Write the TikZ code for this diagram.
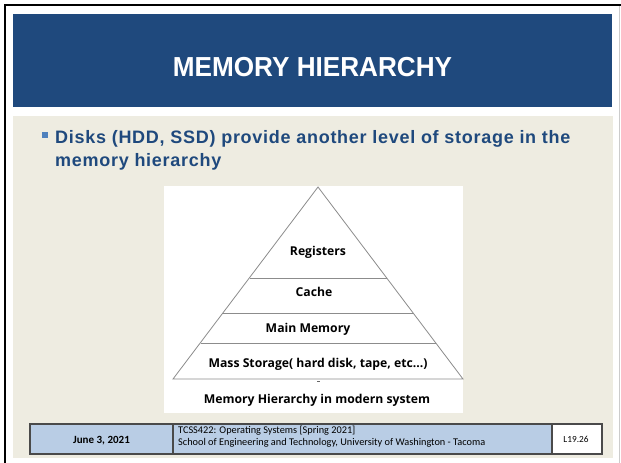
\documentclass[tikz,border=0pt]{standalone}
\usepackage{fontspec}
\setmainfont{Liberation Sans}
\newfontfamily\titlefont[FakeStretch=0.95]{Liberation Sans}
\newfontfamily\bodyfont[LetterSpace=4]{Liberation Sans}
\newfontfamily\pyrfont{Open Sans}
\newfontfamily\footfont{Carlito}
\definecolor{hdrblue}{HTML}{1F497D}
\definecolor{beige}{HTML}{EEECE1}
\definecolor{bullblue}{HTML}{4F81BD}
\definecolor{footblue}{HTML}{B9CDE5}
\definecolor{footline}{HTML}{4A4A4A}
\definecolor{pyrline}{HTML}{8C8C8C}
\tikzset{
  pyrlabel/.style={font=\pyrfont\bfseries\fontsize{12.2}{14}\selectfont, text=black, inner sep=0pt, anchor=base},
  level/.style={draw=pyrline, line width=0.8pt},
  foottext/.style={font=\footfont\fontsize{10.3}{12}\selectfont, text=black, inner sep=0pt},
  footbox/.style={draw=footline, line width=1.1pt}
}
\begin{document}
\begin{tikzpicture}[x=1pt,y=-1pt]
\useasboundingbox (0,0) rectangle (621,463);
\fill[white] (0,0) rectangle (621,463);
% outer frame
\draw[black, line width=2pt] (4,5) -- (621,5);
\draw[black, line width=2pt] (5,4) -- (5,463);
\draw[black!20, line width=1pt] (619.5,6) -- (619.5,463);
% header
\fill[hdrblue] (13,14) rectangle (612,107);
\node[font=\titlefont\bfseries\fontsize{27.5}{30}\selectfont, text=white, anchor=base, inner sep=0pt] (title) at (312.5,76.5) {MEMORY HIERARCHY};
% body
\fill[beige] (13,116) rectangle (613,458);
\fill[bullblue] (42,132) rectangle (47.5,137.5);
\node[font=\bodyfont\bfseries\fontsize{18}{23}\selectfont, text=hdrblue, anchor=base west, inner sep=0pt] (line1) at (55,143) {Disks (HDD, SSD) provide another level of storage in the};
\node[font=\bodyfont\bfseries\fontsize{18}{23}\selectfont, text=hdrblue, anchor=base west, inner sep=0pt] (line2) at (55,166) {memory hierarchy};
% pyramid picture
\fill[white] (164,186) rectangle (463,413);
\coordinate (apex) at (318,187);
\coordinate (bl) at (173,379);
\coordinate (br) at (463,379);
\draw[level] (bl) -- (apex) -- (br) -- cycle;
\draw[level] (249.5,278) -- (386.5,278);
\draw[level] (223,313) -- (413,313);
\draw[level] (200.5,343) -- (435.5,343);
\draw[black!60, line width=0.8pt] (317,381.5) -- (319.5,381.5);
\node[pyrlabel] (reg) at (318,255.5) {Registers};
\node[pyrlabel] (cache) at (314,296.5) {Cache};
\node[pyrlabel] (mainmem) at (308,332) {Main Memory};
\node[pyrlabel] (mass) at (318,367) {Mass Storage( hard disk, tape, etc...)};
\node[pyrlabel] (caption) at (317,403.5) {Memory Hierarchy in modern system};
% footer
\fill[footblue] (30,424) rectangle (552,454);
\fill[white] (552,424) rectangle (602,454);
\draw[footbox] (30,424) rectangle (602,454);
\draw[footbox] (173,424) -- (173,454);
\draw[footbox] (552,424) -- (552,454);
\node[foottext, font=\footfont\bfseries\fontsize{11}{13}\selectfont, anchor=base] (date) at (101.5,443) {June 3, 2021};
\node[foottext, anchor=base west] (course) at (178,433.5) {TCSS422: Operating Systems [Spring 2021]};
\node[foottext, anchor=base west] (school) at (178,445) {School of Engineering and Technology, University of Washington - Tacoma};
\node[foottext, font=\footfont\fontsize{9.3}{11}\selectfont] (slide) at (576,439) {L19.26};
\end{tikzpicture}
\end{document}
